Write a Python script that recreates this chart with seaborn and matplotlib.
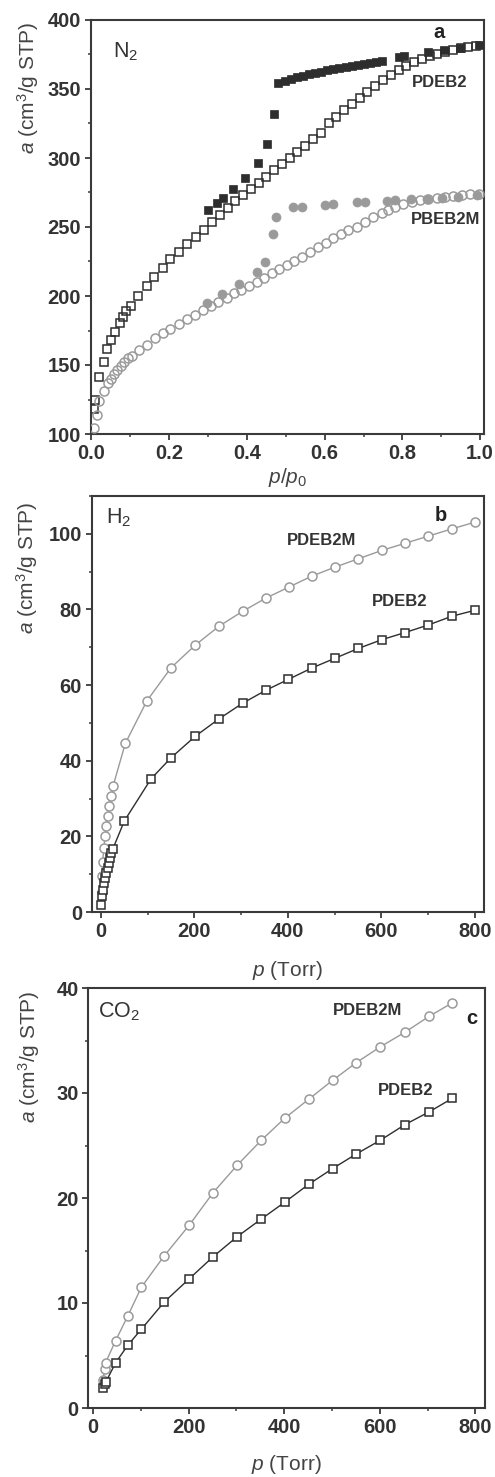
import numpy as np
import pandas as pd
import matplotlib
matplotlib.use("Agg")
import matplotlib.pyplot as plt
from matplotlib.ticker import MultipleLocator
import seaborn as sns

# ---------------- data ----------------
# panel a: N2 isotherms (p/p0 vs a)
a_sq_open_p = [0.006, 0.010, 0.020, 0.032, 0.040, 0.050, 0.060, 0.073, 0.080, 0.090, 0.101,
               0.120, 0.142, 0.161, 0.183, 0.203, 0.225, 0.246, 0.268, 0.290, 0.310, 0.330,
               0.350, 0.370, 0.390, 0.410, 0.430, 0.450, 0.470, 0.490, 0.510, 0.530, 0.550,
               0.570, 0.590, 0.610, 0.630, 0.650, 0.670, 0.690, 0.710, 0.730, 0.750, 0.770,
               0.790, 0.810, 0.830, 0.850, 0.870, 0.890, 0.910, 0.930, 0.950, 0.970, 0.990]
a_sq_open_a = [118.0, 125.0, 141.0, 152.4, 161.4, 168.1, 174.1, 180.2, 184.6, 189.1, 192.8,
               200.0, 207.2, 213.5, 220.5, 226.6, 232.1, 237.7, 243.0, 248.0, 253.5, 258.5,
               263.5, 268.5, 273.0, 277.5, 282.0, 286.5, 291.0, 295.5, 300.0, 304.5, 309.0,
               313.5, 318.0, 325.0, 330.0, 334.5, 339.0, 343.5, 348.0, 352.5, 356.5, 360.0,
               363.5, 366.5, 369.5, 372.0, 374.0, 375.5, 377.0, 378.5, 379.5, 380.5, 381.5]

a_sq_fill_p = [0.300, 0.322, 0.339, 0.363, 0.395, 0.429, 0.452, 0.470, 0.481, 0.497, 0.513,
               0.528, 0.544, 0.560, 0.575, 0.591, 0.607, 0.622, 0.638, 0.654, 0.670, 0.685,
               0.700, 0.716, 0.732, 0.748, 0.790, 0.805, 0.867, 0.907, 0.949, 0.996]
a_sq_fill_a = [262.3, 267.2, 270.8, 277.3, 285.3, 296.2, 309.9, 331.6, 354.6, 356.0, 357.3,
               358.4, 359.5, 360.6, 361.6, 362.6, 363.5, 364.4, 365.3, 366.1, 366.9, 367.7,
               368.4, 369.1, 369.8, 370.5, 373.3, 374.0, 376.7, 378.2, 380.0, 382.0]

a_ci_open_p = [0.007, 0.013, 0.020, 0.032, 0.043, 0.050, 0.058, 0.066, 0.075, 0.083, 0.094,
               0.103, 0.123, 0.143, 0.163, 0.184, 0.203, 0.225, 0.245, 0.266, 0.287, 0.307,
               0.326, 0.348, 0.367, 0.386, 0.406, 0.425, 0.444, 0.464, 0.483, 0.502, 0.522,
               0.542, 0.562, 0.582, 0.603, 0.622, 0.642, 0.661, 0.682, 0.704, 0.725, 0.747,
               0.764, 0.781, 0.802, 0.824, 0.845, 0.867, 0.888, 0.910, 0.931, 0.953, 0.974, 0.996]
a_ci_open_a = [104.6, 113.8, 124.1, 131.4, 136.7, 139.6, 143.5, 146.4, 149.3, 152.4, 154.8,
               156.5, 160.9, 164.5, 169.3, 173.0, 176.1, 179.7, 183.1, 186.2, 189.9, 192.8,
               195.9, 198.8, 202.0, 204.3, 207.2, 210.4, 213.3, 216.4, 219.3, 222.5, 225.4,
               228.5, 232.1, 235.7, 238.6, 241.8, 244.9, 247.8, 250.2, 253.8, 257.0, 259.9,
               262.3, 264.7, 266.7, 268.3, 269.6, 270.3, 271.0, 272.0, 272.7, 273.2, 273.7, 273.9]

a_ci_fill_p = [0.296, 0.335, 0.380, 0.425, 0.446, 0.468, 0.476, 0.519, 0.541, 0.601, 0.622,
               0.682, 0.704, 0.760, 0.781, 0.821, 0.863, 0.901, 0.944, 0.993]
a_ci_fill_a = [195.2, 201.3, 208.5, 217.6, 224.9, 245.0, 257.0, 264.3, 264.7, 266.0, 266.7,
               267.9, 268.3, 269.1, 269.6, 270.1, 270.5, 270.8, 271.5, 273.2]

# panel b: H2 isotherms (p in Torr)
b_m_p = [1, 2, 3.5, 6, 8.5, 11, 14, 18, 22, 26, 52, 98, 150, 202, 253, 303, 353, 402, 451,
         501, 551, 601, 651, 701, 751, 801]
b_m_a = [5.2, 9.6, 13.3, 16.9, 20.0, 22.8, 25.5, 28.1, 30.8, 33.4, 44.6, 55.8, 64.6, 70.6,
         75.6, 79.5, 83.0, 85.9, 88.8, 91.2, 93.4, 95.6, 97.5, 99.4, 101.3, 103.1]
b_d_p = [0, 2, 3.5, 5.6, 8.5, 11, 14, 16, 19, 21, 25, 50, 107, 150, 202, 253, 303, 354, 401,
         451, 501, 551, 601, 651, 701, 751, 801]
b_d_a = [1.9, 4.1, 5.8, 7.6, 8.9, 10.3, 11.6, 12.9, 14.2, 15.6, 16.6, 24.1, 35.2, 40.8, 46.5,
         51.1, 55.2, 58.7, 61.5, 64.5, 67.1, 69.7, 72.0, 73.9, 75.9, 78.2, 79.8]

# panel c: CO2 isotherms (p in Torr)
c_m_p = [21, 24, 26, 47, 73, 101, 149, 201, 251, 301, 352, 401, 451, 501, 551, 601, 653, 703, 752]
c_m_a = [2.7, 3.7, 4.3, 6.4, 8.8, 11.5, 14.5, 17.4, 20.5, 23.1, 25.5, 27.6, 29.4, 31.2, 32.9,
         34.4, 35.8, 37.3, 38.6]
c_d_p = [21, 24, 27, 47, 73, 101, 149, 201, 251, 301, 352, 401, 451, 501, 551, 601, 653, 703, 752]
c_d_a = [1.9, 2.3, 2.5, 4.3, 6.0, 7.5, 10.1, 12.3, 14.4, 16.3, 18.0, 19.6, 21.3, 22.8, 24.2,
         25.5, 27.0, 28.2, 29.5]

# ---------------- style ----------------
sns.set_style("ticks")
plt.rcParams['font.family'] = ['Liberation Sans', 'DejaVu Sans']
plt.rcParams['mathtext.fontset'] = 'custom'
plt.rcParams['mathtext.rm'] = 'Liberation Sans'
plt.rcParams['mathtext.it'] = 'Liberation Sans:italic'
plt.rcParams['mathtext.bf'] = 'Liberation Sans:bold'

DARK = '#2e2e2e'
GRAY = '#9a9a9a'
AX = '#3a3a3a'

W, H = 495, 1477
fig = plt.figure(figsize=(W / 100, H / 100), dpi=100)


def box(l, r, t, b):
    return [l / W, 1 - b / H, (r - l) / W, (b - t) / H]


axa = fig.add_axes(box(90.7, 484, 20, 434))
axb = fig.add_axes(box(91.7, 484, 496, 912))
axc = fig.add_axes(box(88.3, 485, 988, 1408))


def line(ax, x, y, marker, ms, mfc, mec, ls='none', lc=None, mew=1.1, z=2):
    df = pd.DataFrame({'x': x, 'y': y})
    sns.lineplot(data=df, x='x', y='y', ax=ax, estimator=None, sort=False,
                 marker=marker, markersize=ms, mfc=mfc, mec=mec, mew=mew,
                 linestyle=ls, color=lc if lc else mec, linewidth=1.0, zorder=z)


# panel a
line(axa, a_sq_fill_p, a_sq_fill_a, 's', 6.0, DARK, DARK, mew=0.5, z=3)
line(axa, a_ci_fill_p, a_ci_fill_a, 'o', 6.5, GRAY, GRAY, mew=0.5, z=3)
line(axa, a_sq_open_p, a_sq_open_a, 's', 6.0, 'none', DARK, z=4)
line(axa, a_ci_open_p, a_ci_open_a, 'o', 6.5, 'none', GRAY, z=4)

# panel b
line(axb, b_m_p, b_m_a, 'o', 6.5, 'white', GRAY, ls='-', lc=GRAY)
line(axb, b_d_p, b_d_a, 's', 6.0, 'white', DARK, ls='-', lc=DARK)

# panel c
line(axc, c_m_p, c_m_a, 'o', 6.5, 'white', GRAY, ls='-', lc=GRAY)
line(axc, c_d_p, c_d_a, 's', 6.0, 'white', DARK, ls='-', lc=DARK)

# axes formatting
axa.set_xlim(-0.002, 1.01)
axa.set_ylim(100, 400)
axa.xaxis.set_minor_locator(MultipleLocator(0.1))
axa.yaxis.set_major_locator(MultipleLocator(50))
axa.yaxis.set_minor_locator(MultipleLocator(25))
axa.set_xticks([0, 0.2, 0.4, 0.6, 0.8, 1.0])
axa.set_xticklabels(['0.0', '0.2', '0.4', '0.6', '0.8', '1.0'])

axb.set_xlim(-20, 820)
axb.set_ylim(0, 110)
axb.xaxis.set_major_locator(MultipleLocator(200))
axb.xaxis.set_minor_locator(MultipleLocator(100))
axb.yaxis.set_major_locator(MultipleLocator(20))
axb.yaxis.set_minor_locator(MultipleLocator(10))

axc.set_xlim(-10, 820)
axc.set_ylim(0, 40)
axc.xaxis.set_major_locator(MultipleLocator(200))
axc.xaxis.set_minor_locator(MultipleLocator(100))
axc.yaxis.set_major_locator(MultipleLocator(10))
axc.yaxis.set_minor_locator(MultipleLocator(5))

for ax in (axa, axb, axc):
    for s in ax.spines.values():
        s.set_visible(True)
        s.set_linewidth(1.5)
        s.set_color(AX)
    ax.tick_params(which='major', direction='out', length=4.5, width=1.3, color=AX,
                   labelsize=14.5, labelcolor='#333333', pad=2.5)
    ax.tick_params(which='minor', direction='out', length=2.5, width=1.1, color=AX)
    for lab in ax.get_xticklabels() + ax.get_yticklabels():
        lab.set_fontweight('bold')
    ax.set_facecolor('white')

ylab = r'$a$ (cm$^3$/g STP)'
lab_kw = dict(fontsize=15, color='#444444')
axa.set_ylabel(ylab, **lab_kw)
axb.set_ylabel(ylab, **lab_kw)
axc.set_ylabel(ylab, **lab_kw)
axa.yaxis.set_label_coords(-0.126, 0.836)
axb.yaxis.set_label_coords(-0.132, 0.827)
axc.yaxis.set_label_coords(-0.117, 0.836)

axa.set_xlabel(r'$p$/$p$$_0$', **lab_kw)
axb.set_xlabel(r'$p$ (Torr)', **lab_kw)
axc.set_xlabel(r'$p$ (Torr)', **lab_kw)
axa.xaxis.set_label_coords(0.5, -0.077)
axb.xaxis.set_label_coords(0.5, -0.113)
axc.xaxis.set_label_coords(0.5, -0.108)

gas_kw = dict(fontsize=15.5, color='#333333', ha='left', va='center')
bold_kw = dict(fontsize=12, fontweight='bold', color='#333333', ha='center', va='center')
let_kw = dict(fontsize=14.5, fontweight='bold', color='#222222', ha='center', va='center')

axa.text(0.057, 0.923, r'N$_2$', transform=axa.transAxes, **gas_kw)
axa.text(0.886, 0.969, 'a', transform=axa.transAxes, **let_kw)
axa.text(0.888, 0.850, 'PDEB2', transform=axa.transAxes, **bold_kw)
axa.text(0.901, 0.517, 'PBEB2M', transform=axa.transAxes, **bold_kw)

axb.text(0.036, 0.947, r'H$_2$', transform=axb.transAxes, **gas_kw)
axb.text(0.890, 0.954, 'b', transform=axb.transAxes, **let_kw)
axb.text(0.586, 0.892, 'PDEB2M', transform=axb.transAxes, **bold_kw)
axb.text(0.786, 0.746, 'PDEB2', transform=axb.transAxes, **bold_kw)

axc.text(0.025, 0.944, r'CO$_2$', transform=axc.transAxes, **gas_kw)
axc.text(0.966, 0.928, 'c', transform=axc.transAxes, **let_kw)
axc.text(0.703, 0.946, 'PDEB2M', transform=axc.transAxes, **bold_kw)
axc.text(0.800, 0.757, 'PDEB2', transform=axc.transAxes, **bold_kw)

fig.savefig('out.png', dpi=100, facecolor='white')
